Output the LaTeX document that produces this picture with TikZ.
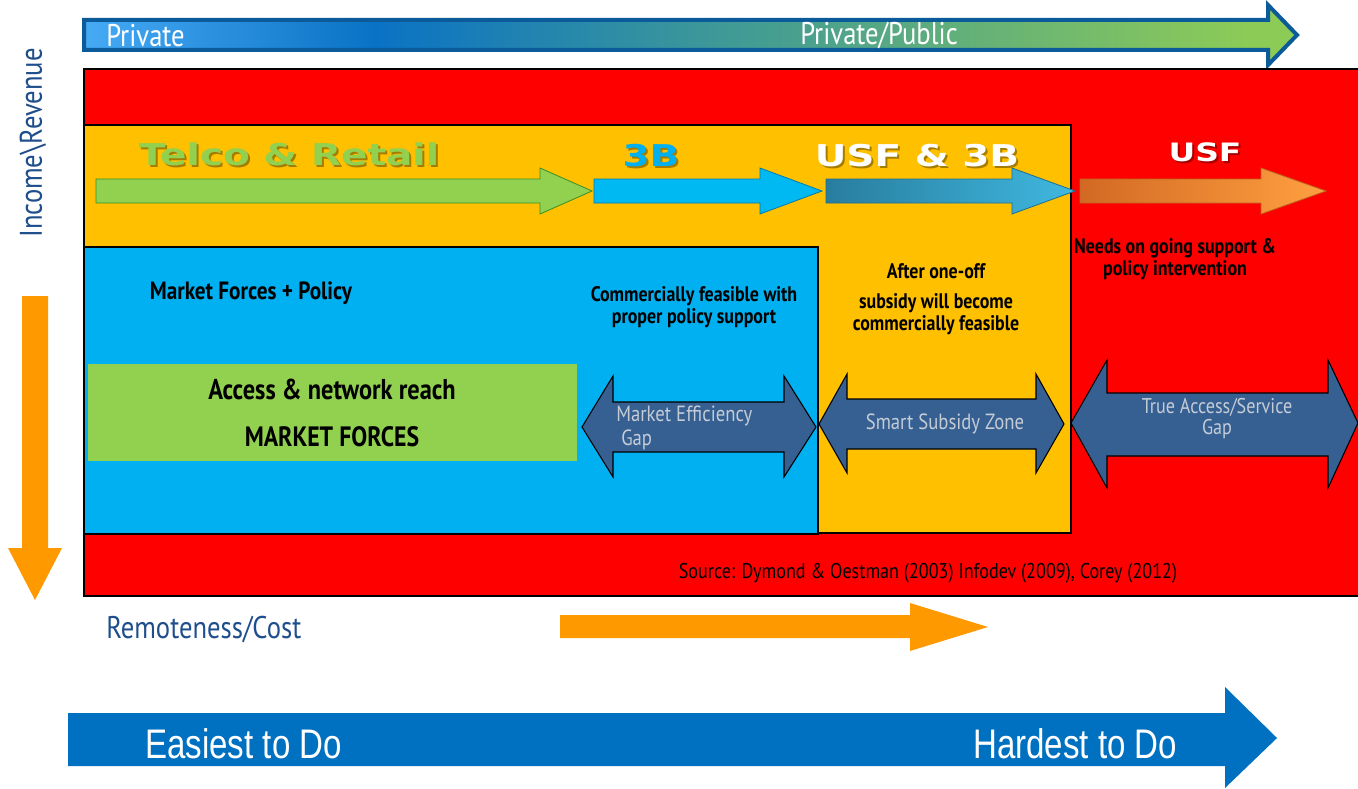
\documentclass[tikz,border=0pt]{standalone}
\usepackage{fontspec}
\setmainfont{PT Sans}
\newfontfamily\clearfont[FakeStretch=0.85]{PT Sans}
\newfontfamily\narrowfont[FakeStretch=0.8]{Liberation Sans}
\newfontfamily\widefont[FakeStretch=1.3]{DejaVu Sans}

\definecolor{redzone}{HTML}{FF0000}
\definecolor{yellowzone}{HTML}{FFC000}
\definecolor{bluezone}{HTML}{00B0F0}
\definecolor{greenzone}{HTML}{92D050}
\definecolor{gapfill}{HTML}{366092}
\definecolor{gaptext}{HTML}{C5CCD6}
\definecolor{axisblue}{HTML}{1F4E8C}
\definecolor{orangearrow}{HTML}{FF9900}
\definecolor{effortblue}{HTML}{0070C0}
\definecolor{topborder}{HTML}{0B5A9A}
\definecolor{lightb}{RGB}{70,170,245}
\definecolor{midb}{RGB}{10,114,196}
\definecolor{tealb}{RGB}{58,150,155}
\definecolor{greenend}{RGB}{141,203,87}

% left-to-right blend of the private -> public band
\pgfdeclarehorizontalshading{sectorshade}{100bp}{%
  color(0bp)=(lightb); color(25bp)=(lightb); color(37bp)=(midb);
  color(50bp)=(tealb); color(73bp)=(greenend); color(100bp)=(greenend)}

\tikzset{
  zone/.style={draw=black, line width=0.9pt},
  gaparrow/.style={fill=gapfill, draw=black, line width=0.8pt},
  gaplabel/.style={font=\clearfont\fontsize{16.5}{19}\selectfont, text=gaptext, inner sep=0pt},
  note/.style={font=\clearfont\bfseries\fontsize{15.8}{16.5}\selectfont, text=black, inner sep=0pt, align=center},
  bignote/.style={note, font=\clearfont\bfseries\fontsize{21.5}{25}\selectfont},
  axislabel/.style={font=\clearfont\fontsize{23.5}{27}\selectfont, text=axisblue, inner sep=0pt},
  toplabel/.style={font=\clearfont\fontsize{23.5}{27}\selectfont, text=white, inner sep=0pt},
  effortlabel/.style={font=\narrowfont\fontsize{31}{35}\selectfont, text=white, inner sep=0pt},
  actorlabel/.style={font=\widefont\bfseries\fontsize{22.5}{26}\selectfont, inner sep=0pt},
  actorshadow/.style={actorlabel, text=black, opacity=0.35},
}

\begin{document}
\begin{tikzpicture}[x=0.75pt,y=-0.75pt]
\useasboundingbox (0,0) rectangle (1358,788);
\fill[white] (0,0) rectangle (1358,788);

% private -> public band
\path[shading=sectorshade, draw=topborder, line width=3pt, line join=miter]
  (84,20) -- (1268,20) -- (1268,5) -- (1297,35) -- (1268,65) -- (1268,50) -- (84,50) -- cycle;
\node[toplabel, anchor=west] (private) at (106,36) {Private};
\node[toplabel, anchor=west] (privpub) at (800,36) {Private/Public};

% nested zones
\fill[redzone] (84,69) rectangle (1358,596);
\draw[zone] (1358,69) -- (84,69) -- (84,596) -- (1358,596);
\draw[zone, fill=yellowzone] (84,125) rectangle (1071,533);
\draw[zone, fill=bluezone] (84,247) rectangle (818,534);
\fill[greenzone] (88,364) rectangle (577,461);

% actor arrows
\path[fill=greenzone, draw=green!40!black!60!greenzone, line width=0.6pt]
  (96,179) -- (540,179) -- (540,168) -- (592,191) -- (540,214) -- (540,203) -- (96,203) -- cycle;
\path[fill=bluezone!90!cyan, draw=bluezone!70!black, line width=0.6pt]
  (594,179) -- (760,179) -- (760,168) -- (822,191) -- (760,214) -- (760,203) -- (594,203) -- cycle;
\shade[left color={rgb,255:red,40;green,125;blue,158}, right color={rgb,255:red,64;green,184;blue,224},
  draw={rgb,255:red,30;green,110;blue,140}, line width=0.6pt]
  (826,179) -- (1012,179) -- (1012,168) -- (1075,191) -- (1012,214) -- (1012,203) -- (826,203) -- cycle;
\shade[left color={rgb,255:red,210;green,105;blue,35}, right color={rgb,255:red,255;green,160;blue,64},
  draw={rgb,255:red,190;green,100;blue,30}, line width=0.6pt]
  (1080,179) -- (1261,179) -- (1261,168) -- (1326,191) -- (1261,214) -- (1261,203) -- (1080,203) -- cycle;

\node[actorshadow] (telcoshadow) at (291,156) {Telco \& Retail};
\node[actorlabel, text=greenzone] (telco) at (289,154) {Telco \& Retail};
\node[actorshadow] (bbshadow) at (653,158) {3B};
\node[actorlabel, text=bluezone] (bb) at (651,156) {3B};
\node[actorshadow] (usf3bshadow) at (919,158) {USF \& 3B};
\node[actorlabel, text=white] (usf3b) at (917,156) {USF \& 3B};
\node[actorshadow, font=\widefont\bfseries\fontsize{19}{22}\selectfont] (usfshadow) at (1207,154) {USF};
\node[actorlabel, text=white, font=\widefont\bfseries\fontsize{19}{22}\selectfont] (usf) at (1205,152) {USF};

% zone notes
\node[note, font=\clearfont\bfseries\fontsize{18.7}{22}\selectfont] (mfp) at (251,293) {Market Forces + Policy};
\node[note] (cfeas) at (694,307) {Commercially feasible with\\proper policy support};
\node[note] (oneoff) at (936,271) {After one-off};
\node[note] (subsidy) at (936,314) {subsidy will become\\commercially feasible};
\node[note] (ongoing) at (1175,259) {Needs on going support \&\\policy intervention};
\node[bignote] (access) at (332,389) {Access \& network reach};
\node[bignote, font=\clearfont\bfseries\fontsize{21}{25}\selectfont] (mforces) at (332,437) {MARKET FORCES};

% gap arrows
\path[gaparrow] (582,427) -- (613,376) -- (613,402) -- (784,402) -- (784,376) -- (816,427)
  -- (784,477) -- (784,452) -- (613,452) -- (613,477) -- cycle;
\path[gaparrow] (819,424) -- (847,374) -- (847,399) -- (1036,399) -- (1036,374) -- (1064,424)
  -- (1036,473) -- (1036,449) -- (847,449) -- (847,473) -- cycle;
\path[gaparrow] (1071,423) -- (1107,360) -- (1107,393) -- (1328,393) -- (1328,360) -- (1358,423)
  -- (1328,488) -- (1328,456) -- (1107,456) -- (1107,488) -- cycle;
\node[gaplabel, anchor=west] (meg1) at (616,416) {Market Efficiency};
\node[gaplabel, anchor=west] (meg2) at (621,440) {Gap};
\node[gaplabel] (ssz) at (945,424) {Smart Subsidy Zone};
\node[gaplabel, font=\clearfont\fontsize{16}{19}\selectfont] (tasg1) at (1217,407) {True Access/Service};
\node[gaplabel, font=\clearfont\fontsize{16}{19}\selectfont] (tasg2) at (1217,429) {Gap};

\node[inner sep=0pt, font=\clearfont\fontsize{16}{18}\selectfont] (source) at (928,573)
  {Source: Dymond \& Oestman (2003) Infodev (2009), Corey (2012)};

% axes
\node[axislabel, rotate=90] (income) at (33,143) {Income\textbackslash Revenue};
\fill[orangearrow] (22,296) -- (48,296) -- (48,548) -- (62,548) -- (35,600) -- (8,548) -- (22,548) -- cycle;
\node[axislabel, anchor=west] (remote) at (106,630) {Remoteness/Cost};
\fill[orangearrow] (560,615) -- (910,615) -- (910,603) -- (988,627) -- (910,651) -- (910,638) -- (560,638) -- cycle;

% effort band
\fill[effortblue] (68,713) -- (1225,713) -- (1225,687) -- (1277,738) -- (1225,788) -- (1225,766) -- (68,766) -- cycle;
\node[effortlabel, anchor=west] (easy) at (145,744) {Easiest to Do};
\node[effortlabel, anchor=west] (hard) at (973,744) {Hardest to Do};
\end{tikzpicture}
\end{document}
